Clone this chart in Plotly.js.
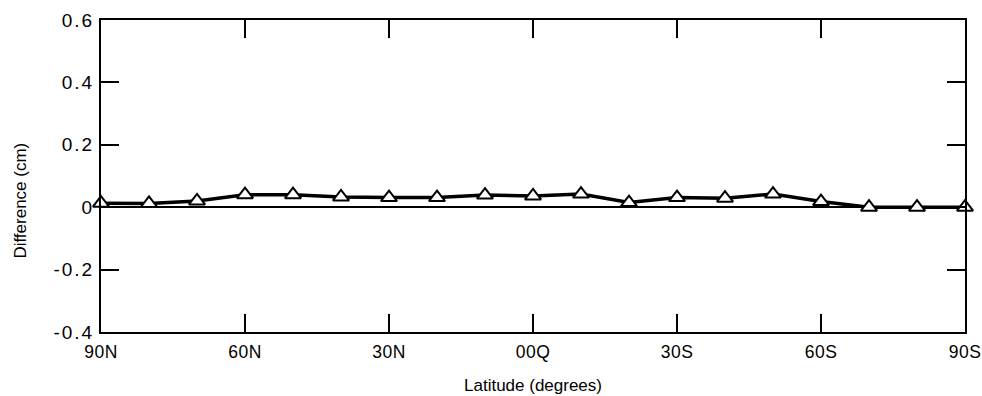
<!DOCTYPE html>
<html>
<head>
<meta charset="utf-8">
<script src="https://cdn.plot.ly/plotly-3.0.1.min.js"></script>
<style>
  html, body { margin: 0; padding: 0; background: #fff; }
  #chart { width: 982px; height: 396px; }
  .ytick text { letter-spacing: 2px; }
  .xtick text { letter-spacing: 0.5px; }
</style>
</head>
<body>
<div id="chart"></div>
<script>
// Latitude in degrees (positive = north, negative = south)
const latitudes = [90, 80, 70, 60, 50, 40, 30, 20, 10, 0, -10, -20, -30, -40, -50, -60, -70, -80, -90];
// Difference (cm)
const differences = [0.013, 0.012, 0.020, 0.040, 0.040, 0.033, 0.031, 0.031, 0.039, 0.036, 0.042, 0.015, 0.031, 0.029, 0.042, 0.018, 0.000, 0.000, 0.000];

const xTickVals = [90, 60, 30, 0, -30, -60, -90];
const xTickText = ['90N', '60N', '30N', '00Q', '30S', '60S', '90S'];
const yTickVals = [-0.4, -0.2, 0, 0.2, 0.4, 0.6];
const yTickText = ['-0.4', '-0.2', '0', '0.2', '0.4', '0.6'];

const xTitle = 'Latitude (degrees)';
const yTitle = 'Difference (cm)';

const yTickFont = { family: '"Liberation Sans", Arial, sans-serif', size: 19, color: '#000' };
const xTickFont = { family: '"Liberation Sans", Arial, sans-serif', size: 17.5, color: '#000' };
const titleFont = { family: '"Liberation Sans", Arial, sans-serif', size: 17, color: '#000' };

const trace = {
  x: latitudes,
  y: differences,
  type: 'scatter',
  mode: 'lines+markers',
  line: { color: '#000', width: 3.5 },
  marker: { symbol: 'triangle-up', size: 14, color: '#fff', line: { color: '#000', width: 2 } },
  cliponaxis: false,
  showlegend: false
};

const layout = {
  width: 982,
  height: 396,
  margin: { l: 101, r: 17, t: 20, b: 64 },
  paper_bgcolor: '#fff',
  plot_bgcolor: '#fff',
  xaxis: {
    range: [90, -90],
    tickmode: 'array',
    tickvals: xTickVals,
    ticktext: xTickText,
    ticks: 'inside',
    ticklen: 18,
    tickwidth: 2,
    tickcolor: '#000',
    showline: true,
    linecolor: '#000',
    linewidth: 2,
    mirror: 'ticks',
    showgrid: false,
    zeroline: false,
    tickfont: xTickFont,
    ticklabelstandoff: 3,
    automargin: false
  },
  yaxis: {
    range: [-0.4, 0.6],
    tickmode: 'array',
    tickvals: yTickVals,
    ticktext: yTickText,
    ticks: 'inside',
    ticklen: 18,
    tickwidth: 2,
    tickcolor: '#000',
    showline: true,
    linecolor: '#000',
    linewidth: 2,
    mirror: 'ticks',
    showgrid: false,
    zeroline: true,
    zerolinecolor: '#000',
    zerolinewidth: 2,
    tickfont: yTickFont,
    ticklabelstandoff: 1,
    ticklabeloverflow: 'allow',
    automargin: false
  },
  annotations: [
    {
      text: xTitle, xref: 'paper', yref: 'paper', x: 0.5, y: -0.173,
      xanchor: 'center', yanchor: 'middle', showarrow: false, font: titleFont
    },
    {
      text: yTitle, xref: 'paper', yref: 'y', x: -0.093, y: 0.02,
      xanchor: 'center', yanchor: 'middle', textangle: -90, showarrow: false, font: titleFont
    }
  ]
};

Plotly.newPlot('chart', [trace], layout, { displayModeBar: false, staticPlot: true });
</script>
</body>
</html>
